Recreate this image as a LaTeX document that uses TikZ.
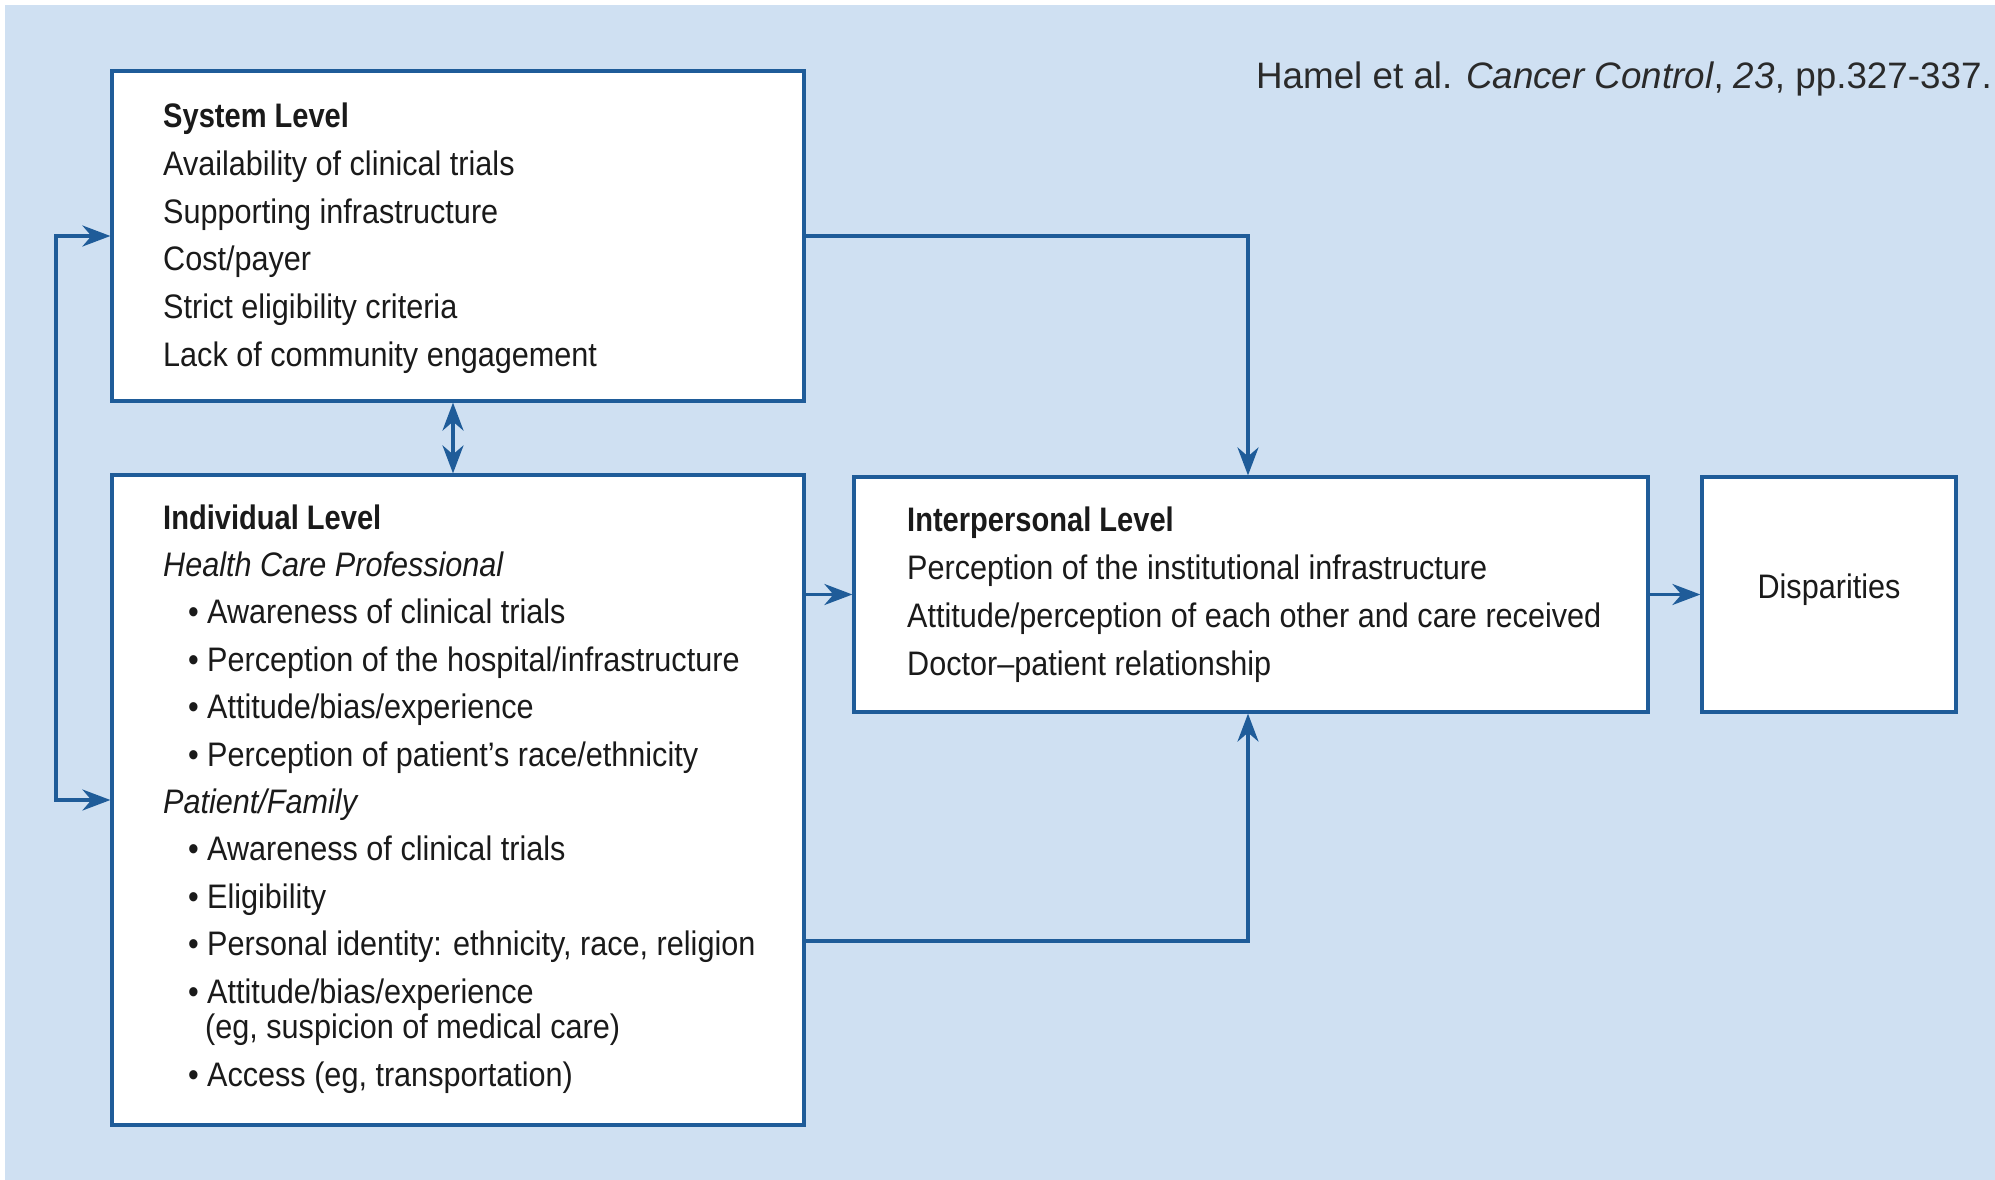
\documentclass[tikz,border=0pt]{standalone}
\usepackage{fontspec}
\setmainfont{Liberation Sans}
\newfontfamily\boxfont[FakeStretch=0.9]{Liberation Sans}
\newfontfamily\boxbold[FakeStretch=0.855]{Liberation Sans}
\newfontfamily\citefont{Liberation Sans}
\usetikzlibrary{arrows.meta}
\definecolor{bgblue}{HTML}{CFE0F2}
\definecolor{linblue}{HTML}{1F5C99}
\definecolor{txtc}{HTML}{1A1A1A}
\definecolor{citec}{HTML}{2A2A2A}
\tikzset{bigtip/.tip={Stealth[length=28pt,width=21pt,inset=9pt]}}
\begin{document}
\begin{tikzpicture}[x=1pt,y=-1pt,
  levelbox/.style={draw=linblue, line width=3.2pt, fill=white, inner sep=0pt, outer sep=1.6pt},
  conn/.style={draw=linblue, line width=3.4pt, line join=miter},
  oneway/.style={conn, -{bigtip}},
  twoway/.style={conn, {bigtip}-{bigtip}},
  txtline/.style={anchor=base west, inner sep=0pt, text=txtc, font=\boxfont\fontsize{34}{40}\selectfont},
  headline/.style={anchor=base west, inner sep=0pt, text=txtc, font=\boxbold\bfseries\fontsize{34}{40}\selectfont},
  subline/.style={anchor=base west, inner sep=0pt, text=txtc, font=\boxfont\itshape\fontsize{34}{40}\selectfont}]
\useasboundingbox (0,0) rectangle (1995,1180);
\fill[white] (0,0) rectangle (1995,1180);
\fill[bgblue] (5,5) rectangle (1995,1180);

% boxes
\node[levelbox, minimum width=692pt, minimum height=330pt] (sys) at (458,236) {};
\node[levelbox, minimum width=692pt, minimum height=650pt] (ind) at (458,800) {};
\node[levelbox, minimum width=794pt, minimum height=235pt] (inter) at (1251,594.5) {};
\node[levelbox, minimum width=254pt, minimum height=235pt] (disp) at (1829,594.5) {};

% citation
\node[anchor=base east, inner sep=0pt, text=citec, font=\citefont\fontsize{36.8}{44}\selectfont] (cite) at (1992,89)
  {Hamel et al. \textit{Cancer Control}, \textit{23}, pp.327-337.};

% system level text
\node[headline] (sh) at (163,128) {System Level};
\foreach \t [count=\i] in {Availability of clinical trials, Supporting infrastructure, Cost/payer, Strict eligibility criteria, Lack of community engagement}
  \node[txtline] (s\i) at (163,{128+47.6*\i}) {\t};

% individual level text
\node[headline] (ih) at (163,529) {Individual Level};
\node[subline] (hcp) at (163,576.4) {Health Care Professional};
\node[txtline] (h1) at (188,623.8) {\makebox[19pt][l]{•}Awareness of clinical trials};
\node[txtline] (h2) at (188,671.2) {\makebox[19pt][l]{•}Perception of the hospital/infrastructure};
\node[txtline] (h3) at (188,718.6) {\makebox[19pt][l]{•}Attitude/bias/experience};
\node[txtline] (h4) at (188,766) {\makebox[19pt][l]{•}Perception of patient’s race/ethnicity};
\node[subline] (pf) at (163,813.4) {Patient/Family};
\node[txtline] (p1) at (188,860.8) {\makebox[19pt][l]{•}Awareness of clinical trials};
\node[txtline] (p2) at (188,908.2) {\makebox[19pt][l]{•}Eligibility};
\node[txtline] (p3) at (188,955.6) {\makebox[19pt][l]{•}Personal identity: ethnicity, race, religion};
\node[txtline] (p4) at (188,1003) {\makebox[19pt][l]{•}Attitude/bias/experience};
\node[txtline] (p4b) at (205,1038) {(eg, suspicion of medical care)};
\node[txtline] (p5) at (188,1086) {\makebox[19pt][l]{•}Access (eg, transportation)};

% interpersonal level text
\node[headline] (nh) at (907,531) {Interpersonal Level};
\node[txtline] (n1) at (907,579) {Perception of the institutional infrastructure};
\node[txtline] (n2) at (907,627) {Attitude/perception of each other and care received};
\node[txtline] (n3) at (907,675) {Doctor–patient relationship};

% disparities text
\node[anchor=base, inner sep=0pt, text=txtc, font=\boxfont\fontsize{34}{40}\selectfont] (dt) at (1829,598) {Disparities};

% connectors
\coordinate (fbx) at (56,0);
\coordinate (dx) at (453,0);
\coordinate (vx) at (1248,0);
\coordinate (j2) at (0,941);
\draw[twoway] (sys.west) -| (fbx |- ind.west) -- (ind.west);
\draw[twoway] (sys.south -| dx) -- (ind.north -| dx);
\draw[oneway] (sys.east) -| (vx |- inter.north);
\draw[oneway] (ind.east |- inter.west) -- (inter.west);
\draw[oneway] (ind.east |- j2) -| (vx |- inter.south);
\draw[oneway] (inter.east) -- (disp.west);
\end{tikzpicture}
\end{document}
